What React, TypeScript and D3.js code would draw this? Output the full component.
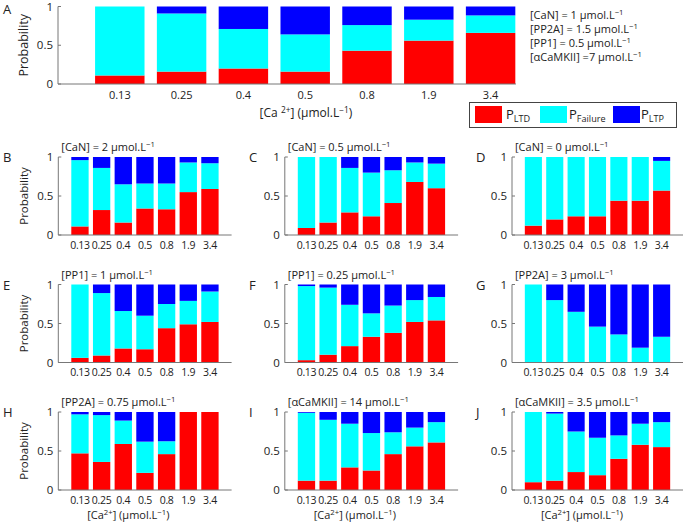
import React from "react";
import * as d3 from "d3";

const categories = ["0.13", "0.25", "0.4", "0.5", "0.8", "1.9", "3.4"];
const yTicks = [0, 0.5, 1];
const yTickLabels = ["0", "0.5", "1"];
const seriesKeys = ["ltd", "failure", "ltp"];
const seriesColors = ["#ff0000", "#00ffff", "#0000ff"];
const legendLabels = ["LTD", "Failure", "LTP"];

const ltdA = [0.11, 0.16, 0.2, 0.16, 0.43, 0.56, 0.66];
const failureA = [0.89, 0.75, 0.51, 0.48, 0.33, 0.27, 0.225];
const ltpA = [0, 0.09, 0.29, 0.36, 0.24, 0.17, 0.115];

const ltdB = [0.11, 0.32, 0.16, 0.34, 0.33, 0.55, 0.59];
const failureB = [0.85, 0.54, 0.49, 0.32, 0.33, 0.38, 0.33];
const ltpB = [0.04, 0.14, 0.35, 0.34, 0.34, 0.07, 0.08];

const ltdC = [0.09, 0.16, 0.29, 0.24, 0.41, 0.68, 0.6];
const failureC = [0.91, 0.84, 0.57, 0.56, 0.42, 0.25, 0.315];
const ltpC = [0, 0, 0.14, 0.2, 0.17, 0.07, 0.085];

const ltdD = [0.12, 0.2, 0.24, 0.24, 0.44, 0.44, 0.57];
const failureD = [0.88, 0.8, 0.76, 0.76, 0.56, 0.56, 0.38];
const ltpD = [0, 0, 0, 0, 0, 0, 0.05];

const ltdE = [0.06, 0.09, 0.18, 0.17, 0.44, 0.49, 0.52];
const failureE = [0.94, 0.8, 0.48, 0.43, 0.31, 0.3, 0.39];
const ltpE = [0, 0.11, 0.34, 0.4, 0.25, 0.21, 0.09];

const ltdF = [0.03, 0.1, 0.21, 0.33, 0.38, 0.52, 0.54];
const failureF = [0.95, 0.86, 0.53, 0.3, 0.35, 0.28, 0.3];
const ltpF = [0.02, 0.04, 0.26, 0.37, 0.27, 0.2, 0.16];

const ltdG = [0, 0, 0, 0, 0, 0, 0];
const failureG = [1, 0.8, 0.65, 0.46, 0.36, 0.19, 0.33];
const ltpG = [0, 0.2, 0.35, 0.54, 0.64, 0.81, 0.67];

const ltdH = [0.47, 0.36, 0.59, 0.22, 0.46, 1, 1];
const failureH = [0.5, 0.6, 0.3, 0.4, 0.165, 0, 0];
const ltpH = [0.03, 0.04, 0.11, 0.38, 0.375, 0, 0];

const ltdI = [0.12, 0.12, 0.29, 0.25, 0.46, 0.56, 0.61];
const failureI = [0.87, 0.78, 0.56, 0.48, 0.28, 0.24, 0.26];
const ltpI = [0.01, 0.1, 0.15, 0.27, 0.26, 0.2, 0.13];

const ltdJ = [0.1, 0.12, 0.23, 0.19, 0.4, 0.58, 0.55];
const failureJ = [0.9, 0.86, 0.52, 0.48, 0.3, 0.27, 0.32];
const ltpJ = [0, 0.02, 0.25, 0.33, 0.3, 0.15, 0.13];

const annotationA = [
  "[CaN] = 1 μmol.L",
  "[PP2A] = 1.5 μmol.L",
  "[PP1] = 0.5 μmol.L",
  "[αCaMKII] =7 μmol.L",
];

const FONT = "'Open Sans', 'DejaVu Sans', sans-serif";
const TXT = "#222";
const AX = "#777";

type Part = [string, "n" | "sup" | "sub"];

function RichText({ x, y, parts, size, anchor = "start", spacing = 0, supShift = 0.36 }: any) {
  let offset = 0;
  const spans = (parts as Part[]).map((p, i) => {
    const target = p[1] === "sup" ? -size * supShift : p[1] === "sub" ? size * 0.3 : 0;
    const dy = target - offset;
    offset = target;
    const fs = p[1] === "n" ? size : size * 0.7;
    return (
      <tspan key={i} dy={dy} fontSize={fs}>
        {p[0]}
      </tspan>
    );
  });
  return (
    <text
      x={x}
      y={y}
      fontFamily={FONT}
      fontSize={size}
      fill={TXT}
      textAnchor={anchor}
      letterSpacing={spacing}
    >
      {spans}
    </text>
  );
}

type PanelDef = {
  id: string;
  title?: string;
  ltd: number[];
  failure: number[];
  ltp: number[];
  x0: number;
  x1: number;
  axisEnd: number;
  top: number;
  bottom: number;
  ylabel?: boolean;
  xlabel?: boolean;
  big?: boolean;
  letterX: number;
};

const colX = [
  { x0: 58.3, x1: 231.6, letter: 3 },
  { x0: 284.8, x1: 458.1, letter: 249 },
  { x0: 512, x1: 683, letter: 476 },
];
const rowY = [
  { top: 157, bottom: 235 },
  { top: 284.5, bottom: 362.5 },
  { top: 412, bottom: 490 },
];

const smallDefs: [string, string, number[], number[], number[]][] = [
  ["B", "[CaN] = 2 μmol.L", ltdB, failureB, ltpB],
  ["C", "[CaN] = 0.5 μmol.L", ltdC, failureC, ltpC],
  ["D", "[CaN] = 0 μmol.L", ltdD, failureD, ltpD],
  ["E", "[PP1] = 1 μmol.L", ltdE, failureE, ltpE],
  ["F", "[PP1] = 0.25 μmol.L", ltdF, failureF, ltpF],
  ["G", "[PP2A] = 3 μmol.L", ltdG, failureG, ltpG],
  ["H", "[PP2A] = 0.75 μmol.L", ltdH, failureH, ltpH],
  ["I", "[αCaMKII] = 14 μmol.L", ltdI, failureI, ltpI],
  ["J", "[αCaMKII] = 3.5 μmol.L", ltdJ, failureJ, ltpJ],
];

const panels: PanelDef[] = [
  {
    id: "A",
    ltd: ltdA,
    failure: failureA,
    ltp: ltpA,
    x0: 58,
    x1: 552.4,
    axisEnd: 7.41,
    top: 6.5,
    bottom: 84,
    ylabel: true,
    xlabel: true,
    big: true,
    letterX: 3,
  },
  ...smallDefs.map((d, i) => {
    const c = colX[i % 3];
    const r = rowY[Math.floor(i / 3)];
    return {
      id: d[0],
      title: d[1],
      ltd: d[2],
      failure: d[3],
      ltp: d[4],
      x0: c.x0,
      x1: c.x1,
      axisEnd: 8,
      top: r.top,
      bottom: r.bottom,
      ylabel: i % 3 === 0,
      xlabel: i >= 6,
      letterX: c.letter,
    } as PanelDef;
  }),
];

function Panel({ p }: { p: PanelDef }) {
  const x = d3.scaleLinear().domain([0, 8]).range([p.x0, p.x1]);
  const y = d3.scaleLinear().domain([0, 1]).range([p.bottom, p.top]);
  const rows = categories.map((c, i) => ({
    cat: c,
    pos: i + 1,
    ltd: p.ltd[i],
    failure: p.failure[i],
    ltp: p.ltp[i],
  }));
  const stacked = d3.stack<any>().keys(seriesKeys)(rows);
  const bw = x(0.8) - x(0);
  const midX = p.big ? 306 : p.x0 + 70;
  return (
    <g>
      {stacked.map((layer, li) => (
        <g key={li} fill={seriesColors[li]}>
          {layer.map((seg, si) => {
            const h = y(seg[0]) - y(seg[1]);
            if (h <= 0.01) return null;
            return (
              <rect
                key={si}
                x={x(seg.data.pos) - bw / 2}
                y={y(seg[1])}
                width={bw}
                height={h}
              />
            );
          })}
        </g>
      ))}
      <line x1={x(0)} x2={x(0)} y1={y(0)} y2={y(1)} stroke={AX} strokeWidth={1} />
      <line x1={x(0)} x2={x(p.axisEnd)} y1={y(0)} y2={y(0)} stroke={AX} strokeWidth={1} />
      {yTicks.map((t, i) => (
        <g key={i}>
          <line x1={x(0)} x2={x(0) + 3} y1={y(t)} y2={y(t)} stroke={AX} strokeWidth={1} />
          <text
            x={x(0) - 5}
            y={y(t)}
            dy="0.35em"
            textAnchor="end"
            fontFamily={FONT}
            fontSize={11.5}
            fill={TXT}
          >
            {yTickLabels[i]}
          </text>
        </g>
      ))}
      {rows.map((r, i) => (
        <text
          key={i}
          x={x(r.pos)}
          y={y(0) + (p.big ? 11 : 10)}
          dy="0.35em"
          textAnchor="middle"
          fontFamily={FONT}
          fontSize={p.big ? 11 : 10.5}
          letterSpacing={p.big ? 0 : -0.3}
          fill={TXT}
        >
          {r.cat}
        </text>
      ))}
      {p.ylabel && (
        <text
          transform={`translate(28,${(y(0) + y(1)) / 2}) rotate(-90)`}
          textAnchor="middle"
          fontFamily={FONT}
          fontSize={p.big ? 12.5 : 11.5}
          fill={TXT}
        >
          Probability
        </text>
      )}
      {p.xlabel && (
        <RichText
          x={midX}
          y={y(0) + (p.big ? 33 : 28.5)}
          size={p.big ? 12 : 11}
          anchor="middle"
          supShift={0.34}
          parts={[
            [p.big ? "[Ca " : "[Ca", "n"],
            ["2+", "sup"],
            ["] (μmol.L", "n"],
            ["−1", "sup"],
            [")", "n"],
          ]}
        />
      )}
      {p.title && (
        <RichText
          x={p.x0 + 3}
          y={p.top - 6}
          size={11}
          parts={[
            [p.title, "n"],
            ["−1", "sup"],
          ]}
        />
      )}
      <text
        x={p.letterX}
        y={p.top + (p.big ? 7 : 5)}
        fontFamily={FONT}
        fontSize={13}
        fill={TXT}
      >
        {p.id}
      </text>
    </g>
  );
}

export default function App() {
  const legendX = [475, 540, 613];
  const legendTextX = [506, 569, 641];
  return (
    <svg width={685} height={525} style={{ position: "absolute", left: 0, top: 0, background: "#fff" }}>
      <rect x={0} y={0} width={685} height={525} fill="#fff" />
      {panels.map((p) => (
        <Panel key={p.id} p={p} />
      ))}
      {annotationA.map((a, i) => (
        <RichText
          key={i}
          x={530}
          y={18.5 + i * 14}
          size={11}
          supShift={0.3}
          parts={[
            [a, "n"],
            ["−1", "sup"],
          ]}
        />
      ))}
      <rect x={469.5} y={102.5} width={207} height={25} fill="#fff" stroke="#444" strokeWidth={1} />
      {legendLabels.map((l, i) => (
        <g key={i}>
          <rect x={legendX[i]} y={106} width={27} height={17} fill={seriesColors[i]} />
          <RichText
            x={legendTextX[i]}
            y={118.5}
            size={13}
            parts={[
              ["P", "n"],
              [l, "sub"],
            ]}
          />
        </g>
      ))}
    </svg>
  );
}
